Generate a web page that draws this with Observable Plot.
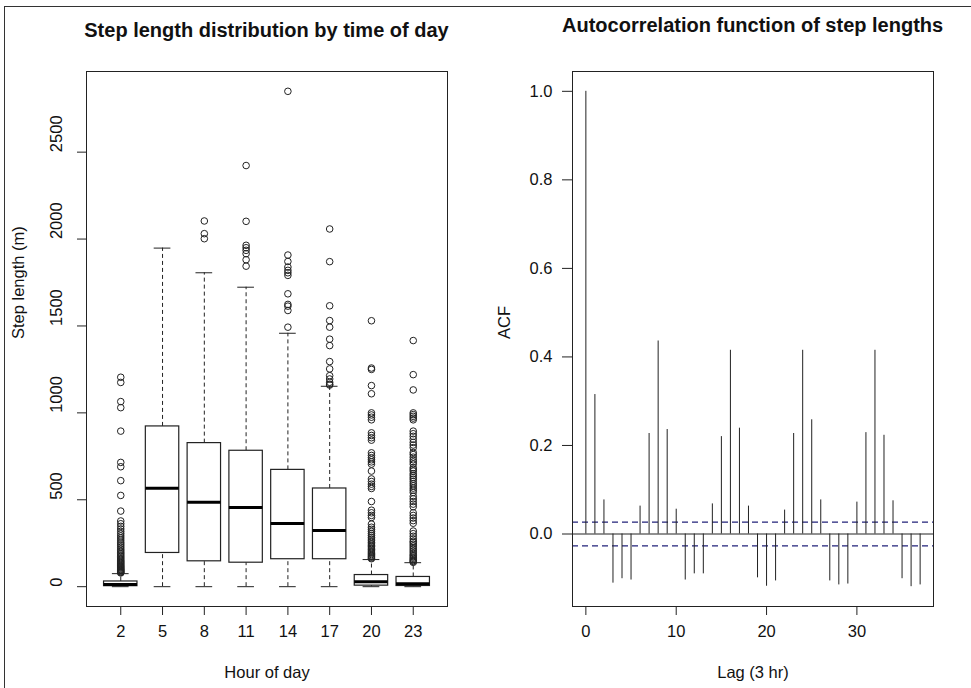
<!DOCTYPE html>
<html><head><meta charset="utf-8">
<script src="https://cdn.jsdelivr.net/npm/d3@7"></script>
<script src="https://cdn.jsdelivr.net/npm/@observablehq/plot@0.6"></script>
<style>
body{margin:0;background:#fff;}
#wrap{position:relative;width:971px;height:688px;overflow:hidden;font-family:"Liberation Sans",Arial,sans-serif;background:#fff;}
.border{position:absolute;left:4px;top:6px;right:-2px;bottom:-2px;border-left:1px solid #333;border-top:1px solid #333;}
.title{position:absolute;font-weight:bold;font-size:20px;line-height:20px;text-align:center;color:#111;white-space:nowrap;width:500px;}
.panel{position:absolute;top:0;}
</style></head>
<body><div id="wrap"><div class="border"></div>
<div class="title" style="left:16.5px;top:20px">Step length distribution by time of day</div>
<div class="title" style="left:502.6px;top:14.6px">Autocorrelation function of step lengths</div>
<div class="panel" id="p1" style="left:0"></div>
<div class="panel" id="p2" style="left:485px"></div>
</div>
<script>
// ---- Left panel: boxplot summaries ----
const hours    = [2, 5, 8, 11, 14, 17, 20, 23];
const q1       = [3, 194, 146, 138, 158, 158, 6, 4];
const medians  = [12, 567, 486, 455, 363, 323, 28, 17];
const q3       = [30, 922, 826, 782, 672, 565, 67, 56];
const whiskLo  = [0, 0, 0, 0, 0, 0, 0, 0];
const whiskHi  = [75, 1948, 1806, 1723, 1458, 1153, 156, 138];
const out2  = [1205,1175,1065,1030,895,715,690,610,525,435,378,362,347,332,318,305,292,280,268,256,246,236,226,216,207,198,190,182,174,166,159,152,146,140,134,128,122,117,112,107,102,98,94,90,86,82,79];
const out5  = [];
const out8  = [2104,2031,2002];
const out11 = [2423,2102,1964,1950,1935,1916,1881,1844];
const out14 = [2850,1908,1871,1839,1820,1806,1791,1685,1624,1614,1589,1493];
const out17 = [2058,1870,1616,1531,1493,1424,1387,1295,1253,1214,1195,1176,1165,1160];
const out20 = [1530,1258,1250,1157,1110,1000,988,975,960,885,870,857,843,770,755,742,730,718,705,665,620,605,590,577,565,490,440,425,410,398,360,342,330,318,306,295,284,274,264,255,246,238,230,222,214,206,199,192,185,178,172,166,161];
const out23 = [1416,1220,1132,1000,990,980,970,960,895,880,865,848,830,815,800,772,760,745,730,718,705,685,675,665,650,640,628,618,605,592,580,567,555,542,520,505,490,475,460,425,410,395,380,365,320,305,290,275,262,255,245,235,225,215,205,195,185,178,170,163,156,150,145,140];
const yTicksLeft = [0, 500, 1000, 1500, 2000, 2500];

// ---- Right panel: ACF ----
const lags = [0,1,2,3,4,5,6,7,8,9,10,11,12,13,14,15,16,17,18,19,20,21,22,23,24,25,26,27,28,29,30,31,32,33,34,35,36,37];
const acfValues = [1.000,0.315,0.077,-0.111,-0.101,-0.104,0.063,0.227,0.436,0.236,0.056,-0.104,-0.090,-0.090,0.068,0.220,0.415,0.239,0.063,-0.099,-0.118,-0.106,0.054,0.227,0.415,0.258,0.077,-0.106,-0.115,-0.113,0.072,0.229,0.415,0.223,0.075,-0.101,-0.119,-0.115];
const ciBound = 0.027;
const xTicksRight = [0, 10, 20, 30];
const yTicksRight = [0, 0.2, 0.4, 0.6, 0.8, 1.0];

const fontFam = '"Liberation Sans", Arial, sans-serif';
const ink = "#222";
const txt = "#111";

// Left plot
const n = hours.length;
const boxes = hours.map((h, i) => ({h, p: i + 1, q1: q1[i], med: medians[i], q3: q3[i], lo: whiskLo[i], hi: whiskHi[i]}));
const outlierSets = [out2, out5, out8, out11, out14, out17, out20, out23];
const outliers = outlierSets.flatMap((arr, i) => arr.map(v => ({p: i + 1, v})));
const yMax = d3.max([...whiskHi, ...outliers.map(d => d.v)]);
const yMin = d3.min(whiskLo);
const yPad = 0.04 * (yMax - yMin);

const left = Plot.plot({
  width: 485, height: 688,
  marginLeft: 86, marginRight: 38, marginTop: 71, marginBottom: 82,
  style: {fontFamily: fontFam, fontSize: "16.5px", color: txt, background: "transparent", overflow: "visible"},
  x: {domain: [0.5 - 0.04 * n, n + 0.5 + 0.04 * n], axis: null, label: null},
  y: {domain: [yMin - yPad, yMax + yPad], axis: null, label: null},
  marks: [
    Plot.ruleX(boxes, {x: "p", y1: "q3", y2: "hi", stroke: ink, strokeDasharray: "4,3"}),
    Plot.ruleX(boxes, {x: "p", y1: "lo", y2: "q1", stroke: ink, strokeDasharray: "4,3"}),
    Plot.ruleY(boxes, {y: "hi", x1: d => d.p - 0.2, x2: d => d.p + 0.2, stroke: ink}),
    Plot.ruleY(boxes, {y: "lo", x1: d => d.p - 0.2, x2: d => d.p + 0.2, stroke: ink}),
    Plot.rect(boxes, {x1: d => d.p - 0.4, x2: d => d.p + 0.4, y1: "q1", y2: "q3", fill: "white", stroke: ink, strokeWidth: 1.2}),
    Plot.ruleY(boxes, {y: "med", x1: d => d.p - 0.4, x2: d => d.p + 0.4, stroke: "#000", strokeWidth: 3}),
    Plot.dot(outliers, {x: "p", y: "v", r: 3.3, stroke: ink, fill: "none", strokeWidth: 1}),
    Plot.frame({stroke: ink}),
    Plot.axisX({ticks: boxes.map(d => d.p), tickSize: 9, tickFormat: () => "", stroke: ink, label: null}),
    Plot.text(boxes, {x: "p", text: d => String(d.h), frameAnchor: "bottom", dy: 30.7, fill: txt}),
    Plot.axisY({ticks: yTicksLeft, tickSize: 9, tickFormat: () => "", stroke: ink, label: null}),
    Plot.text(yTicksLeft, {y: d => d, text: d => String(d), frameAnchor: "left", dx: -29.6, rotate: -90, fill: txt}),
    Plot.text(["Step length (m)"], {frameAnchor: "left", dx: -67.8, rotate: -90, fill: txt}),
    Plot.text(["Hour of day"], {frameAnchor: "bottom", dy: 71.7, fill: txt})
  ]
});
document.getElementById("p1").appendChild(left);

// Right plot
const acfData = lags.map((l, i) => ({lag: l, acf: acfValues[i]}));
const lMin = d3.min(lags), lMax = d3.max(lags);
const aMin = d3.min(acfValues), aMax = d3.max(acfValues);
const right = Plot.plot({
  width: 486, height: 688,
  marginLeft: 87, marginRight: 38, marginTop: 71, marginBottom: 82,
  style: {fontFamily: fontFam, fontSize: "16.5px", color: txt, background: "transparent", overflow: "visible"},
  x: {domain: [lMin - 0.04 * (lMax - lMin), lMax + 0.04 * (lMax - lMin)], axis: null, label: null},
  y: {domain: [aMin - 0.04 * (aMax - aMin), aMax + 0.04 * (aMax - aMin)], axis: null, label: null},
  marks: [
    Plot.ruleY([ciBound, -ciBound], {stroke: "#22227a", strokeWidth: 1.2, strokeDasharray: "6,4"}),
    Plot.ruleY([0], {stroke: ink}),
    Plot.ruleX(acfData, {x: "lag", y1: 0, y2: "acf", stroke: ink}),
    Plot.frame({stroke: ink}),
    Plot.axisX({ticks: xTicksRight, tickSize: 9, tickFormat: () => "", stroke: ink, label: null}),
    Plot.text(xTicksRight, {x: d => d, text: d => String(d), frameAnchor: "bottom", dy: 30.7, fill: txt}),
    Plot.axisY({ticks: yTicksRight, tickSize: 10, tickFormat: () => "", stroke: ink, label: null}),
    Plot.text(yTicksRight, {y: d => d, text: d => d3.format(".1f")(d), frameAnchor: "left", dx: -20, textAnchor: "end", fill: txt}),
    Plot.text(["ACF"], {frameAnchor: "left", dx: -67.6, rotate: -90, fill: txt}),
    Plot.text(["Lag (3 hr)"], {frameAnchor: "bottom", dy: 71.7, fill: txt})
  ]
});
document.getElementById("p2").appendChild(right);
</script>
</body></html>
